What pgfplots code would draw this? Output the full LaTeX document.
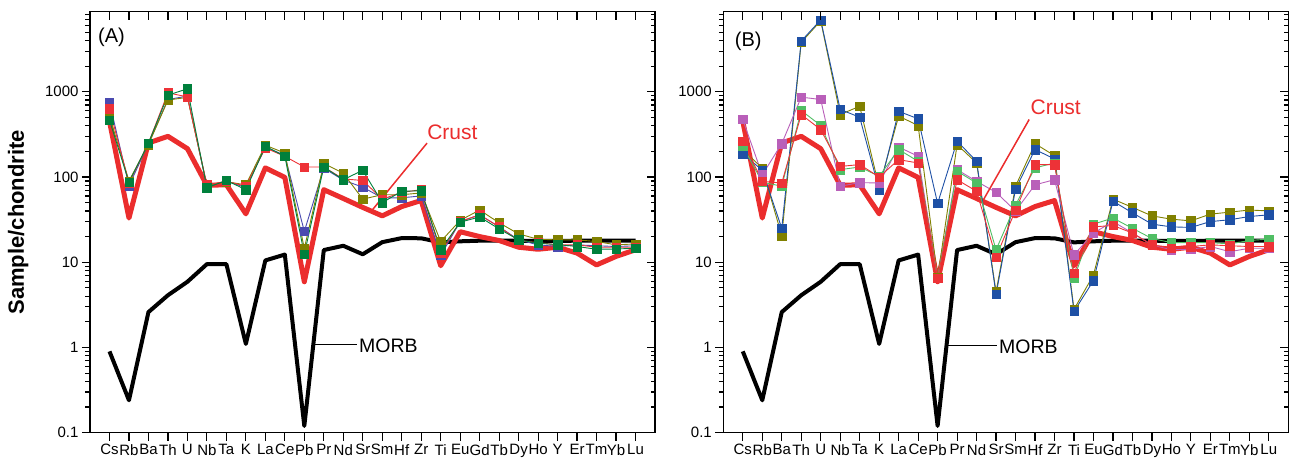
\documentclass[border=0pt]{standalone}
\usepackage{pgfplots}
\usepackage{pgfplotstable}
\pgfplotsset{compat=1.18}
\usepackage{fontspec}
\setmainfont{Liberation Sans}

\definecolor{blueA}{RGB}{74,74,176}
\definecolor{blueB}{RGB}{30,80,165}
\definecolor{redS}{RGB}{237,50,55}
\definecolor{oliveS}{RGB}{128,128,0}
\definecolor{greenA}{RGB}{0,128,60}
\definecolor{greenB}{RGB}{80,190,100}
\definecolor{magB}{RGB}{185,95,185}
\definecolor{crustred}{RGB}{235,45,45}

% chondrite-normalised trace elements, Cs (1) ... Lu (28)
\pgfplotstableread{
i  blue  red  olive green crust morb
1  755   631  518   464   450   0.9
2  79    85   90    87    33    0.24
3  245   250  240   250   251   2.6
4  812   973  800   913   300   4.1
5  890   870  860   1084  215   5.9
6  78    81   80    75    80    9.5
7  90    89   88    91    81    9.5
8  75    78   81    71    37    1.1
9  225   219  236   229   128   10.5
10 180   175  191   175   99    12.3
11 23    131  14.5  12.4  5.9   0.12
12 127   131  144   131   71    13.9
13 92    95   111   93    56    15.6
14 76    91   55    120   44    12.4
15 57    55   62    50    35    17.2
16 57    66   62    68    45    19.2
17 60    71   65    69    53    19.1
18 12    13   17.5  14    9.1   17.1
19 30    30   31    29.5  22.8  17.6
20 36    36   41    34    20    17.9
21 26    26   29    24.6  18    17.9
22 18.3  18   21.5  18.3  15    17.9
23 16    17   18.6  16.7  14.2  17.8
24 15.3  16   18.3  16.1  15    17.8
25 16    16   18.3  15.3  12.8  17.9
26 15.6  15   17.5  14.2  9.3   17.9
27 15.3  15   16    14.3  11.7  17.9
28 15.6  15   16.4  14.6  14    17.9
}\tabA

\pgfplotstableread{
i  blue  olive mag  lgreen red  crust morb
1  188   210   473  230    263  450   0.9
2  120   127   106  87     89   33    0.24
3  25    20.5  246  78     85   251   2.6
4  3940  3800  865  603    541  300   4.1
5  6970  6800  812  402    360  215   5.9
6  620   541   78   122    133  80    9.5
7  503   676   86   131    140  81    9.5
8  71    76    85   102    100  37    1.1
9  590   518   225  210    160  128   10.5
10 482   402   175  153    146  99    12.3
11 49    6.6   6.5  6.5    6.5  5.9   0.12
12 263   240   122  117    93   71    13.9
13 153   146   89   85     68   56    15.6
14 4.2   4.5   66   14     11.5 44    12.4
15 72    78    40   47     41   35    17.2
16 210   246   81   128    140  45    19.2
17 163   178   93   146    140  53    19.1
18 2.65  2.8   12.2 6.5    7.4  9.1   17.1
19 6.1   7.1   22   28     26   22.8  17.6
20 52    55    30   33     27   20    17.9
21 38    44    22   25     22   18    17.9
22 28    35    16   19     16   15    17.9
23 26    32    14   17     14.6 14.2  17.8
24 25.6  30.6  14.2 17     15.3 15    17.8
25 30    36.7  15.3 17     16   12.8  17.9
26 31.5  38.7  13.3 16.4   15.6 9.3   17.9
27 34.4  41    14.6 18     15.3 11.7  17.9
28 36    40    14.6 18.7   15.3 14    17.9
}\tabB

\pgfplotsset{
  spiderframe/.style={
    scale only axis, width=565pt, height=421pt,
    xmin=0, xmax=29, ymin=0.1, ymax=8700,
    xtick={1,...,28},
    ytick={0.1,1,10,100,1000},
    minor ytick={0.2,0.3,0.4,0.5,0.6,0.7,0.8,0.9,2,3,4,5,6,7,8,9,20,30,40,50,60,70,80,90,200,300,400,500,600,700,800,900,2000,3000,4000,5000,6000,7000,8000},
    major tick length=8pt, minor tick length=4.5pt,
    axis line style={line width=1.4pt},
    every tick/.append style={line width=1.2pt, black},
  },
  spiderlabels/.style={
    tick align=outside, xtick pos=left, ytick pos=left,
    xticklabels={Cs,Rb,Ba,Th,U,Nb,Ta,K,La,Ce,Pb,Pr,Nd,Sr,Sm,Hf,Zr,Ti,Eu,Gd,Tb,Dy,Ho,Y,Er,Tm,Yb,Lu},
    yticklabels={0.1,1,10,100,1000},
    tick label style={font=\fontsize{15}{17}\selectfont},
  },
  spidertop/.style={
    tick align=inside, xtick pos=right, ytick pos=right,
    xticklabels={}, yticklabels={},
  },
  samp/.style={line width=0.9pt, mark=square*, mark size=4.2pt, mark options={solid, line width=0.4pt}},
  morbline/.style={black, line width=4pt, line join=round},
  crustline/.style={crustred, line width=5pt, line join=round},
}

\begin{document}
\begin{tikzpicture}
\useasboundingbox (0,0) rectangle (1291pt,464pt);

% ---------------- panel (A) ----------------
\begin{axis}[ymode=log, spiderframe, spiderlabels,
  at={(90pt,31.3pt)}, anchor=south west,
  ylabel={\bfseries Sample/chondrite},
  ylabel style={at={(axis description cs:-0.127,0.5)}, anchor=center,
    font=\fontsize{22}{26}\selectfont}]
\addplot[morbline] table[x=i, y=morb] {\tabA};
\addplot[crustline] table[x=i, y=crust] {\tabA};
\addplot[samp, color=blueA] table[x=i, y=blue] {\tabA};
\addplot[samp, color=oliveS] table[x=i, y=olive] {\tabA};
\addplot[samp, color=redS] table[x=i, y=red] {\tabA};
\addplot[samp, color=greenA] table[x=i, y=green] {\tabA};
\draw[crustred, line width=1.5pt] (axis cs:17.3,250) -- (axis cs:14.45,40);
\node[crustred, font=\fontsize{21}{24}\selectfont] at (axis cs:18.6,339) {Crust};
\draw[black, line width=1.5pt] (axis cs:11.5,1.09) -- (axis cs:13.7,1.09);
\node[anchor=west, inner sep=1pt, font=\fontsize{19.5}{22}\selectfont] at (axis cs:13.75,1.06) {MORB};
\node[font=\fontsize{20}{24}\selectfont] at (rel axis cs:0.038,0.94) {(A)};
\end{axis}
\begin{axis}[ymode=log, spiderframe, spidertop, at={(90pt,31.3pt)}, anchor=south west]
\addplot[draw=none] coordinates {(1,1)};
\end{axis}

% ---------------- panel (B) ----------------
\begin{axis}[ymode=log, spiderframe, spiderlabels,
  at={(723.3pt,31.3pt)}, anchor=south west]
\addplot[morbline] table[x=i, y=morb] {\tabB};
\addplot[crustline] table[x=i, y=crust] {\tabB};
\addplot[samp, color=oliveS] table[x=i, y=olive] {\tabB};
\addplot[samp, color=blueB] table[x=i, y=blue] {\tabB};
\addplot[samp, color=magB] table[x=i, y=mag] {\tabB};
\addplot[samp, color=greenB] table[x=i, y=lgreen] {\tabB};
\addplot[samp, color=redS] table[x=i, y=red] {\tabB};
\draw[crustred, line width=1.5pt] (axis cs:15.7,473) -- (axis cs:13.35,54);
\node[crustred, font=\fontsize{21}{24}\selectfont] at (axis cs:17.06,663) {Crust};
\draw[black, line width=1.5pt] (axis cs:11.5,1.05) -- (axis cs:14.03,1.05);
\node[anchor=west, inner sep=1pt, font=\fontsize{19.5}{22}\selectfont] at (axis cs:14.1,1.02) {MORB};
\node[font=\fontsize{20}{24}\selectfont] at (rel axis cs:0.044,0.93) {(B)};
\end{axis}
\begin{axis}[ymode=log, spiderframe, spidertop, at={(723.3pt,31.3pt)}, anchor=south west]
\addplot[draw=none] coordinates {(1,1)};
\end{axis}
\end{tikzpicture}
\end{document}
